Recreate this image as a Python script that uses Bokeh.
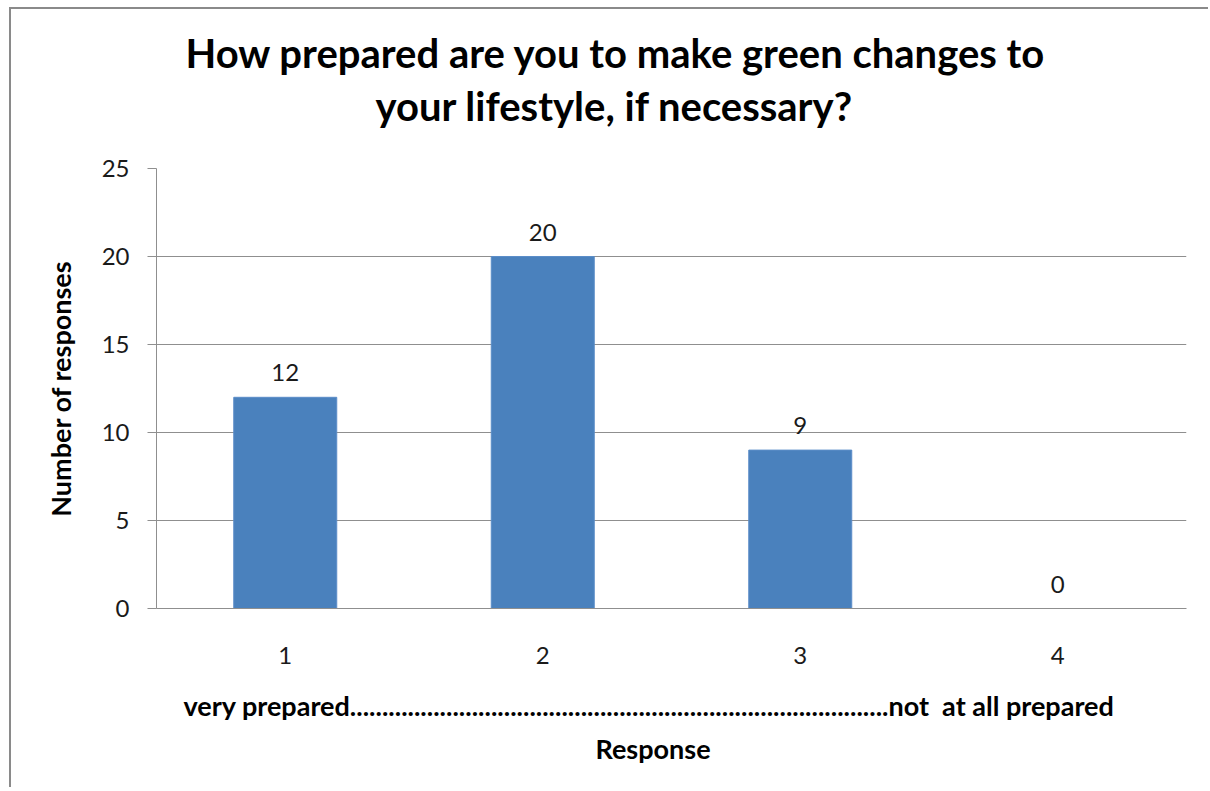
from bokeh.plotting import figure
from bokeh.models import ColumnDataSource, LabelSet, FixedTicker, Range1d, Title
from bokeh.core.properties import value
from bokeh.embed import file_html
from bokeh.resources import INLINE

categories = [1, 2, 3, 4]
responses = [12, 20, 9, 0]
y_ticks = [0, 5, 10, 15, 20, 25]
title_lines = ["How prepared are you to make green changes to", "your lifestyle, if necessary?"]
scale_text = "very prepared" + "." * 84 + "not\u00a0 at all prepared"
x_title = "Response"
y_title = "Number of responses"

FONT = "Lato"
GRID = "#8f8f8f"

src = ColumnDataSource(dict(x=categories, y=responses, lbl=[str(v) for v in responses]))

p = figure(width=1199, height=780, output_backend="svg", toolbar_location=None,
           x_range=Range1d(0.5, 4.5), y_range=Range1d(0, 25),
           min_border_left=145, min_border_right=24, min_border_top=159, min_border_bottom=181)
p.styles = {"border-top": "2px solid #8a8a8a", "border-left": "2px solid #8a8a8a",
            "margin-left": "9px", "margin-top": "7px"}
p.outline_line_color = None
p.background_fill_color = "white"
p.border_fill_color = "white"

p.vbar(x="x", top="y", width=0.4, source=src, fill_color="#4A81BD", line_color="#5B8DC8", line_width=1)

labels = LabelSet(x="x", y="y", text="lbl", source=src, text_align="center", text_baseline="bottom",
                  y_offset=16, text_font=value(FONT), text_font_size="24px", text_color="#1a1a1a")
p.add_layout(labels)

# axes
p.yaxis.ticker = FixedTicker(ticks=y_ticks)
p.yaxis.major_tick_out = 9
p.yaxis.major_tick_in = 0
p.yaxis.minor_tick_line_color = None
p.yaxis.axis_line_color = GRID
p.yaxis.major_tick_line_color = GRID
p.yaxis.major_label_text_font = FONT
p.yaxis.major_label_text_font_size = "24px"
p.yaxis.major_label_text_color = "#1a1a1a"
p.yaxis.major_label_standoff = 18
p.yaxis.axis_label = y_title
p.yaxis.axis_label_text_font = FONT
p.yaxis.axis_label_text_font_style = "bold"
p.yaxis.axis_label_text_font_size = "27px"
p.yaxis.axis_label_text_color = "#000000"
p.yaxis.axis_label_standoff = 22

p.xaxis.ticker = FixedTicker(ticks=categories)
p.xaxis.major_tick_line_color = None
p.xaxis.minor_tick_line_color = None
p.xaxis.axis_line_color = GRID
p.xaxis.major_label_text_font = FONT
p.xaxis.major_label_text_font_size = "24px"
p.xaxis.major_label_text_color = "#1a1a1a"
p.xaxis.major_label_standoff = 32

p.xgrid.grid_line_color = None
p.ygrid.ticker = FixedTicker(ticks=y_ticks)
p.ygrid.grid_line_color = GRID
p.ygrid.grid_line_width = 1

# bottom texts (first added is closest to the axis)
p.add_layout(Title(text=scale_text, align="left", offset=27, standoff=40,
                   text_font=FONT, text_font_style="bold", text_font_size="27px",
                   text_color="#000000"), "below")
p.add_layout(Title(text=x_title, align="left", offset=439, standoff=-24,
                   text_font=FONT, text_font_style="bold", text_font_size="27px",
                   text_color="#000000"), "below")

# title lines (last added is outermost); a blank spacer keeps them off the frame
p.add_layout(Title(text=" ", standoff=26, text_font_size="2px"), "above")
p.add_layout(Title(text=title_lines[1], align="left", offset=219, standoff=17,
                   text_font=FONT, text_font_style="bold", text_font_size="40px",
                   text_color="#000000"), "above")
p.add_layout(Title(text=title_lines[0], align="left", offset=29, standoff=-10,
                   text_font=FONT, text_font_style="bold", text_font_size="40px",
                   text_color="#000000"), "above")

open("out.html", "w").write(file_html(p, INLINE))
